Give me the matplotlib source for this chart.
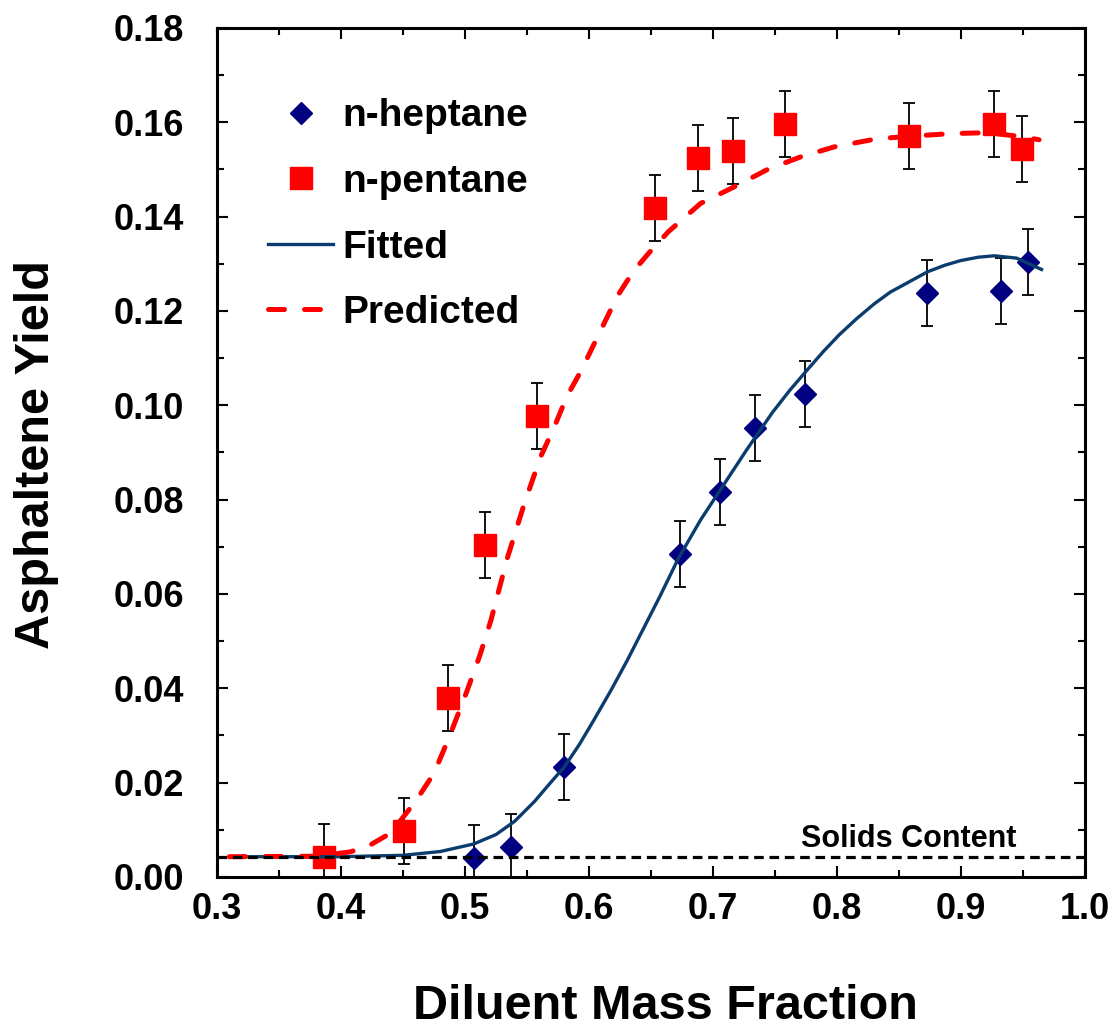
import matplotlib
matplotlib.use("Agg")
import matplotlib.pyplot as plt
from matplotlib.lines import Line2D
from matplotlib.ticker import MultipleLocator, FormatStrFormatter

plt.rcParams['font.family'] = ['Liberation Sans', 'DejaVu Sans']
plt.rcParams['font.weight'] = 'bold'

heptane_x = [0.507, 0.537, 0.580, 0.673, 0.706, 0.734, 0.774, 0.873, 0.932, 0.954]
heptane_y = [0.0040, 0.0063, 0.0233, 0.0685, 0.0817, 0.0952, 0.1024, 0.1239, 0.1243, 0.1304]

pentane_x = [0.386, 0.451, 0.486, 0.516, 0.558, 0.653, 0.688, 0.716, 0.758, 0.858, 0.927, 0.949]
pentane_y = [0.0043, 0.0098, 0.0380, 0.0704, 0.0978, 0.1419, 0.1525, 0.1540, 0.1597, 0.1570, 0.1597, 0.1544]

yerr = 0.007

# model curves
fit_x = [0.310, 0.400, 0.450, 0.480, 0.507, 0.525, 0.540, 0.556, 0.569, 0.580, 0.592, 0.604,
         0.618, 0.631, 0.644, 0.657, 0.672, 0.690, 0.706, 0.727, 0.748, 0.762, 0.776, 0.789,
         0.802, 0.816, 0.830, 0.843, 0.857, 0.873, 0.887, 0.900, 0.914, 0.927, 0.945, 0.965]
fit_y = [0.0043, 0.0043, 0.0046, 0.0054, 0.0070, 0.0090, 0.0118, 0.0160, 0.0200, 0.0233, 0.0280, 0.0333,
         0.0397, 0.0460, 0.0527, 0.0594, 0.0675, 0.0757, 0.0821, 0.0905, 0.0985, 0.1032, 0.1075, 0.1114,
         0.1150, 0.1184, 0.1215, 0.1240, 0.1260, 0.1283, 0.1297, 0.1307, 0.1314, 0.1317, 0.1312, 0.1288]

pred_x = [0.310, 0.380, 0.407, 0.421, 0.440, 0.460, 0.475, 0.487, 0.501, 0.512, 0.521, 0.534,
          0.548, 0.561, 0.572, 0.582, 0.594, 0.605, 0.623, 0.636, 0.648, 0.664, 0.690, 0.717,
          0.744, 0.771, 0.798, 0.832, 0.862, 0.892, 0.921, 0.948, 0.963]
pred_y = [0.0043, 0.0044, 0.0053, 0.0064, 0.0093, 0.0160, 0.0220, 0.0295, 0.0390, 0.0470, 0.0545, 0.0675,
          0.0793, 0.0891, 0.0954, 0.1018, 0.1075, 0.1135, 0.1232, 0.1285, 0.1322, 0.1368, 0.1428, 0.1463,
          0.1500, 0.1527, 0.1548, 0.1565, 0.1571, 0.1576, 0.1578, 0.1570, 0.1563]

solids_level = 0.0043

navy = '#000080'
fit_color = '#0a3d6e'
red = '#ff0000'

fig = plt.figure(figsize=(11.17, 10.32), dpi=100)
ax = fig.add_axes([0.1943, 0.1502, 0.777, 0.8227])

ax.errorbar(heptane_x, heptane_y, yerr=yerr, fmt='none', ecolor='black',
            elinewidth=1.3, capsize=4.5, capthick=1.3, zorder=2)
ax.errorbar(pentane_x, pentane_y, yerr=yerr, fmt='none', ecolor='black',
            elinewidth=1.3, capsize=4.5, capthick=1.3, zorder=2)
ax.plot(heptane_x, heptane_y, ls='none', marker='D', ms=11, color=navy, zorder=3)
ax.plot(pentane_x, pentane_y, ls='none', marker='s', ms=16, color=red, zorder=3)

ax.plot(fit_x, fit_y, color=fit_color, lw=2.4, zorder=4)
ax.plot(pred_x, pred_y, color=red, lw=3.6, dashes=(3.2, 4.0),
        dash_capstyle='round', zorder=4)

ax.axhline(solids_level, color='black', lw=2.3, dashes=(3, 1.8), zorder=5)
ax.text(0.858, 0.0064, 'Solids Content', fontsize=22, fontweight='bold',
        ha='center', va='baseline')

ax.set_xlim(0.3, 1.0)
ax.set_ylim(0.0, 0.18)
ax.xaxis.set_major_locator(MultipleLocator(0.1))
ax.xaxis.set_minor_locator(MultipleLocator(0.05))
ax.yaxis.set_major_locator(MultipleLocator(0.02))
ax.yaxis.set_minor_locator(MultipleLocator(0.01))
ax.xaxis.set_major_formatter(FormatStrFormatter('%.1f'))
ax.yaxis.set_major_formatter(FormatStrFormatter('%.2f'))

ax.tick_params(which='both', direction='in', top=True, right=True, width=1.5)
ax.tick_params(which='major', length=8, labelsize=26)
ax.tick_params(which='minor', length=5)
ax.tick_params(axis='x', which='major', pad=11)
ax.tick_params(axis='y', which='major', pad=24)
for sp in ax.spines.values():
    sp.set_linewidth(2.2)

fig.text(0.5955, 0.013, 'Diluent Mass Fraction', fontsize=35, fontweight='bold',
         ha='center', va='baseline')
fig.text(0.033, 0.56, 'Asphaltene Yield', fontsize=35, fontweight='bold',
         ha='center', va='center', rotation=90)

handles = [
    Line2D([], [], ls='none', marker='D', ms=11, color=navy),
    Line2D([], [], ls='none', marker='s', ms=16, color=red),
    Line2D([], [], color=fit_color, lw=2.4),
    Line2D([], [], color=red, lw=3.6, dashes=(3.2, 4.0), dash_capstyle='round'),
]
labels = ['n-heptane', 'n-pentane', 'Fitted', 'Predicted']
ax.legend(handles, labels, loc='upper left', bbox_to_anchor=(0.059, 0.917),
          frameon=False, fontsize=28, handlelength=1.67, handletextpad=0.23,
          labelspacing=0.76, borderpad=0, borderaxespad=0)

fig.savefig('out.png', dpi=100)
